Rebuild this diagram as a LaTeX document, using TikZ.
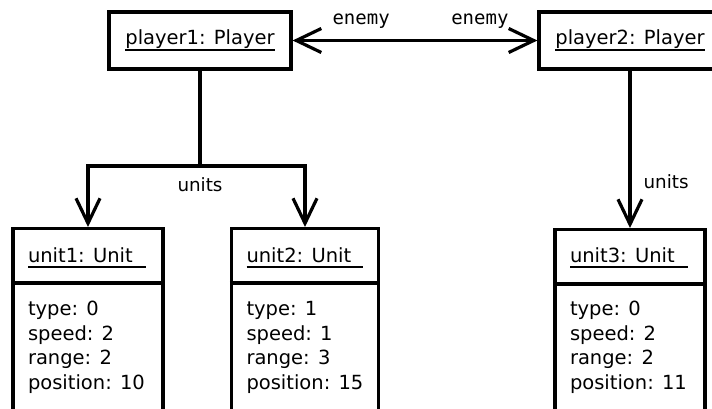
\documentclass[tikz,border=0pt]{standalone}
\usepackage{fontspec}
\setmainfont{DejaVu Sans}
\setmonofont{DejaVu Sans Mono}
\usetikzlibrary{arrows.meta,positioning}

\newlength\ulw
\newcommand{\objname}[2]{%
  \settowidth\ulw{#1}\ifdim\ulw<#2\relax\setlength\ulw{#2}\fi
  \makebox[\ulw][l]{#1}\llap{\rule[-6pt]{\ulw}{1.9pt}}}

\begin{document}
\begin{tikzpicture}[x=1pt,y=-1pt,line width=3.2pt,
    >={Straight Barb[length=25pt,width=24pt]},
    obj/.style={draw,minimum width=182pt,minimum height=57pt,inner sep=0pt,
      font=\fontsize{19.5}{24.5}\selectfont},
    unitbox/.style={draw,anchor=north,minimum width=150pt,minimum height=200pt},
    title/.style={anchor=base west,inner sep=0pt,font=\fontsize{19.5}{24.5}\selectfont},
    attr/.style={anchor=base west,inner sep=0pt,align=left,font=\fontsize{19.5}{24.5}\selectfont},
    lbl/.style={inner sep=0pt,anchor=base,font=\fontsize{18.3}{20}\selectfont},
    role/.style={inner sep=0pt,anchor=base,font=\ttfamily\fontsize{19}{20}\selectfont}]
    \useasboundingbox (0,0) rectangle (712,409);
    \clip (0,0) rectangle (712,409);
    % players
    \node[obj] (p1) at (200,40.5) {\objname{player1: Player}{0pt}};
    \node[obj] (p2) at (630,40.5) {\objname{player2: Player}{0pt}};
    % units
    \node[unitbox] (u1) at (88,227) {};
    \node[unitbox,minimum width=147pt] (u2) at (305,227) {};
    \node[unitbox] (u3) at (630,228) {};
    \foreach \u in {u1,u2,u3}
        \draw ([yshift=-56pt]\u.north west) -- ([yshift=-56pt]\u.north east);
    \node[title] (t1) at ([xshift=15pt,yshift=-35pt]u1.north west) {\objname{unit1: Unit}{118pt}};
    \node[title] (t2) at ([xshift=15pt,yshift=-35pt]u2.north west) {\objname{unit2: Unit}{116pt}};
    \node[title] (t3) at ([xshift=15pt,yshift=-34pt]u3.north west) {\objname{unit3: Unit}{118pt}};
    \node[attr] (a1) at ([xshift=15pt,yshift=-162pt]u1.north west) {type: 0\\speed: 2\\range: 2\\position: 10};
    \node[attr] (a2) at ([xshift=15pt,yshift=-162pt]u2.north west) {type: 1\\speed: 1\\range: 3\\position: 15};
    \node[attr] (a3) at ([xshift=15pt,yshift=-161pt]u3.north west) {type: 0\\speed: 2\\range: 2\\position: 11};
    % links
    \draw[<->] (p1.east) -- (p2.west)
        node[role,pos=0.28,yshift=15.5pt] (e1) {enemy}
        node[role,pos=0.765,yshift=15.5pt] (e2) {enemy};
    \coordinate (fork) at (200,166);
    \draw (p1.south) -- (fork);
    \draw[->] (fork) -| (u1.north);
    \draw[->] (fork) -| (u2.north);
    \node[lbl,yshift=-25.7pt] (l1) at (fork) {units};
    \draw[->] (p2.south) -- (u3.north) node[lbl,anchor=base west,pos=0.75,xshift=12pt] (l2) {units};
\end{tikzpicture}
\end{document}
